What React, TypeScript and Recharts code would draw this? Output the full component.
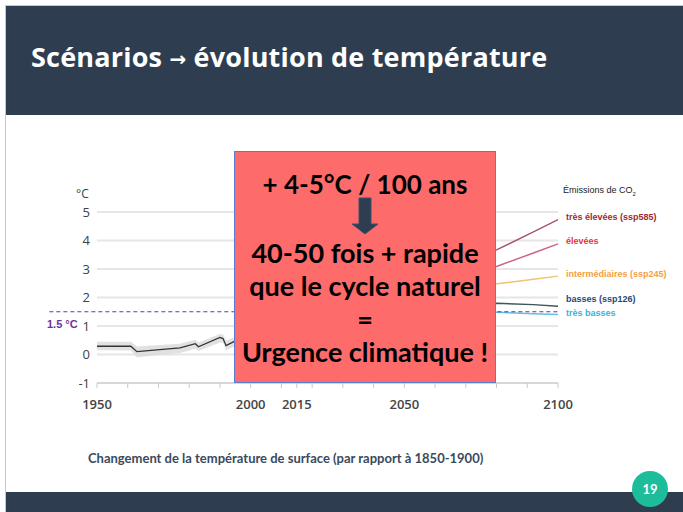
import React from "react"
import { ComposedChart, Line, Area, XAxis, YAxis, CartesianGrid, ReferenceLine } from "recharts"

// historical record (observed warming)
const histYears = [1950, 1961, 1963, 1977, 1982, 1983, 1990, 1991, 1992, 1995, 2005, 2015]
const histTemp = [0.29, 0.29, 0.1, 0.23, 0.38, 0.27, 0.6, 0.56, 0.31, 0.48, 0.75, 1.0]
const histLow = [0.15, 0.14, -0.1, 0.05, 0.2, 0.12, 0.42, 0.4, 0.15, 0.3, 0.55, 0.8]
const histHigh = [0.45, 0.45, 0.28, 0.38, 0.52, 0.42, 0.72, 0.7, 0.48, 0.62, 0.9, 1.15]

// scenario projections
const scenYears = [2015, 2040, 2060, 2080, 2092, 2100]
const ssp585 = [1.0, 1.9, 2.7, 3.67, 4.3, 4.73]
const ssp370 = [1.0, 1.8, 2.4, 3.09, 3.56, 3.88]
const ssp245 = [1.0, 1.6, 2.1, 2.48, 2.64, 2.75]
const ssp126 = [1.0, 1.5, 1.75, 1.8, 1.75, 1.69]
const ssp119 = [1.0, 1.5, 1.5, 1.48, 1.43, 1.4]

const xTicks = [1950, 1960, 1970, 1980, 1990, 2000, 2010, 2015, 2020, 2030, 2040, 2050, 2060, 2070, 2080, 2090, 2100]
const xLabels = [1950, 2000, 2015, 2050, 2100]
const yTicks = [-1, 0, 1, 2, 3, 4, 5]
const limit = 1.5

const scenarios = [
  { key: "ssp585", values: ssp585, line: "#a8566e", label: "très élevées (ssp585)", color: "#9e2a2f", top: 212 },
  { key: "ssp370", values: ssp370, line: "#cc6480", label: "élevées", color: "#e8343c", top: 236 },
  { key: "ssp245", values: ssp245, line: "#f3c26c", label: "intermédiaires (ssp245)", color: "#f4a046", top: 269 },
  { key: "ssp126", values: ssp126, line: "#3d5656", label: "basses (ssp126)", color: "#2c4770", top: 294 },
  { key: "ssp119", values: ssp119, line: "#5cc2e2", label: "très basses", color: "#3ab2dc", top: 308 },
]

const histData = histYears.map((year, i) => ({ year, temp: histTemp[i], band: [histLow[i], histHigh[i]] }))

const XTick = (props: any) => {
  const { x, y, payload } = props
  if (!xLabels.includes(payload.value)) return <g />
  return (
    <text x={x} y={y + 19} textAnchor="middle" fontSize={13} fontWeight={600} fill="#444" fontFamily="Open Sans">
      {payload.value}
    </text>
  )
}

const navy = "#2e3e50"

export default function App() {
  return (
    <div style={{ position: "absolute", left: 0, top: 0, width: 683, height: 512, background: "#fff", overflow: "hidden", fontFamily: "Lato" }}>
      <div style={{ position: "absolute", left: 5, top: 5, width: 678, height: 507, borderLeft: "1px solid #c8c8c8", borderTop: "1px solid #c8c8c8" }} />
      <div style={{ position: "absolute", left: 6, top: 6, width: 677, height: 109, background: navy }} />
      <div style={{ position: "absolute", left: 31, top: 41, color: "#fff", fontFamily: "Open Sans", fontWeight: 700, fontSize: 27, letterSpacing: 0.2, lineHeight: "32px", whiteSpace: "nowrap" }}>
        Scénarios <span style={{ fontFamily: "DejaVu Sans", fontWeight: 700, fontSize: 20, verticalAlign: 1 }}>→</span> évolution de température
      </div>

      <ComposedChart
        width={683}
        height={512}
        style={{ position: "absolute", left: 0, top: 0 }}
        margin={{ top: 212, right: 125, left: 57, bottom: 89 }}
      >
        <CartesianGrid vertical={false} stroke="#e6e6e6" strokeWidth={2} />
        <XAxis
          dataKey="year"
          type="number"
          domain={[1950, 2100]}
          ticks={xTicks}
          interval={0}
          height={40}
          allowDuplicatedCategory={false}
          stroke="#c8c8c8"
          tickSize={5}
          tick={XTick}
        />
        <YAxis
          type="number"
          domain={[-1, 5]}
          ticks={yTicks}
          width={40}
          axisLine={false}
          tickLine={false}
          tickMargin={1}
          tick={{ fontSize: 13, fill: "#404040", fontFamily: "Open Sans" }}
        />
        <Area data={histData} dataKey="band" stroke="none" fill="#d9d9d9" fillOpacity={0.8} isAnimationActive={false} />
        <Line data={histData} dataKey="temp" stroke="#333" strokeWidth={1.3} dot={false} isAnimationActive={false} />
        {scenarios.map((s) => (
          <Line
            key={s.key}
            data={scenYears.map((year, i) => ({ year, v: s.values[i] }))}
            dataKey="v"
            stroke={s.line}
            strokeWidth={1.5}
            dot={false}
            isAnimationActive={false}
          />
        ))}
        <ReferenceLine
          segment={[{ x: 1934.5, y: limit }, { x: 2100, y: limit }]}
          ifOverflow="visible"
          stroke="#7030a0"
          strokeWidth={1}
          strokeDasharray="4 3"
        />
      </ComposedChart>

      <div style={{ position: "absolute", left: 76, top: 185, fontSize: 12, color: "#404040", fontFamily: "Open Sans" }}>°C</div>
      <div style={{ position: "absolute", left: 47, top: 318, fontSize: 11, fontWeight: 700, color: "#7030a0", fontFamily: "Liberation Sans" }}>1.5 °C</div>

      <div style={{ position: "absolute", left: 563, top: 185, fontSize: 9, color: "#222", fontFamily: "Liberation Sans", whiteSpace: "nowrap" }}>
        Émissions de CO<sub style={{ fontSize: 6 }}>2</sub>
      </div>
      {scenarios.map((s) => (
        <div key={s.key} style={{ position: "absolute", left: 566, top: s.top, fontSize: 9, fontWeight: 700, color: s.color, fontFamily: "Liberation Sans", whiteSpace: "nowrap" }}>
          {s.label}
        </div>
      ))}

      <div
        style={{
          position: "absolute",
          left: 234,
          top: 151,
          width: 260,
          height: 230,
          background: "#fd6b6b",
          border: "1px solid #5a7ccf",
          color: "#000",
          fontWeight: 700,
          fontSize: 27,
          textAlign: "center",
          whiteSpace: "nowrap",
        }}
      >
        <div style={{ position: "absolute", left: 0, right: 0, top: 16, lineHeight: "32px", fontSize: 26 }}>+ 4-5°C / 100 ans</div>
        <svg width={30} height={38} style={{ position: "absolute", left: 116, top: 45 }}>
          <polygon points="8,1 20,1 20,27 27,27 14,37 1,27 8,27" fill={navy} stroke="#3a5170" strokeWidth={1} />
        </svg>
        <div style={{ position: "absolute", left: 0, right: 0, top: 84, lineHeight: "33px" }}>
          40-50 fois + rapide
          <br />
          que le cycle naturel
          <br />=
          <br />
          Urgence climatique !
        </div>
      </div>

      <div style={{ position: "absolute", left: 88, top: 450, fontSize: 13, fontWeight: 700, color: "#3a4a5c", whiteSpace: "nowrap" }}>
        Changement de la température de surface (par rapport à 1850-1900)
      </div>

      <div style={{ position: "absolute", left: 6, top: 492, width: 677, height: 20, background: navy }} />
      <div
        style={{
          position: "absolute",
          left: 632,
          top: 471,
          width: 36,
          height: 36,
          borderRadius: 18,
          background: "#1dbd9b",
          color: "#fff",
          fontWeight: 700,
          fontSize: 13,
          lineHeight: "36px",
          textAlign: "center",
        }}
      >
        19
      </div>
    </div>
  )
}
